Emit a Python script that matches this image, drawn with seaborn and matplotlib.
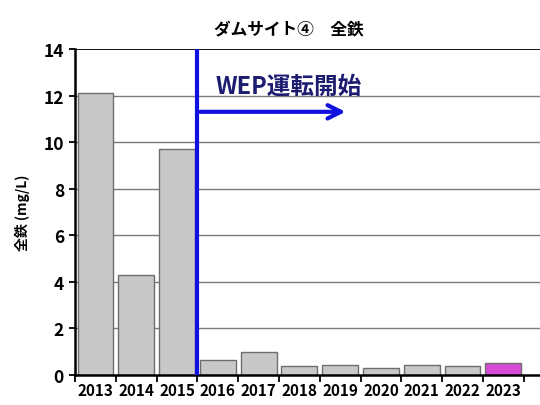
import matplotlib
matplotlib.use("Agg")
import matplotlib.pyplot as plt
import seaborn as sns
import pandas as pd
from matplotlib.ticker import FixedLocator

years = ["2013", "2014", "2015", "2016", "2017", "2018", "2019", "2020", "2021", "2022", "2023"]
values = [12.1, 4.3, 9.7, 0.65, 0.97, 0.39, 0.43, 0.32, 0.43, 0.39, 0.5]
bar_colors = ["#c8c8c8"] * 10 + ["#ee33ee"]
title = "ダムサイト④　全鉄"
ylabel = "全鉄 (mg/L)"
annotation = "WEP運転開始"
yticks = [0, 2, 4, 6, 8, 10, 12, 14]

sns.set_theme(style="white")
plt.rcParams['font.family'] = ['Noto Sans CJK JP', 'DejaVu Sans']
plt.rcParams['text.color'] = 'black'
plt.rcParams['axes.labelcolor'] = 'black'
plt.rcParams['xtick.color'] = 'black'
plt.rcParams['ytick.color'] = 'black'

df = pd.DataFrame({"year": years, "value": values})

fig = plt.figure(figsize=(5.4, 4.06), dpi=100)
ax = fig.add_axes([0.139, 0.074, 0.861, 0.803])

for y in yticks[1:]:
    ax.axhline(y, color="#000000" if y == 14 else "#7a7a7a", lw=1.3 if y == 14 else 1.0, zorder=0)

sns.barplot(data=df, x="year", y="value", hue="year", palette=bar_colors, legend=False,
            width=0.88, edgecolor="#6e6e6e", linewidth=1.0, ax=ax, zorder=2)

ax.set_xlim(-0.5, 10.9)
ax.set_ylim(0, 14)
ax.set_yticks(yticks)
ax.set_yticklabels([str(t) for t in yticks], fontsize=12.5, fontweight="bold")
ax.set_xticks(range(len(years)))
ax.set_xticklabels(years, fontsize=11, fontweight="bold")
ax.xaxis.set_minor_locator(FixedLocator([i - 0.5 for i in range(len(years) + 1)]))
ax.tick_params(axis="x", which="major", length=0, pad=5, labelcolor="black")
ax.tick_params(axis="x", which="minor", length=5, width=1.3, color="black", direction="out", bottom=True)
ax.tick_params(axis="y", which="major", length=4, width=1.3, color="black", direction="out", left=True, pad=4,
               labelcolor="black")

for s in ["left", "bottom"]:
    ax.spines[s].set_color("black")
    ax.spines[s].set_linewidth(1.8)
for s in ["right", "top"]:
    ax.spines[s].set_visible(False)

ax.set_xlabel("")
ax.set_ylabel(ylabel, fontsize=10, fontweight="bold", labelpad=10, color="black")
ax.set_title(title, fontsize=12, fontweight="bold", pad=11, x=0.46, color="black")

# WEP start line and arrow
ax.axvline(2.5, color="#1010e0", lw=3, zorder=4)
ax.annotate("", xy=(6.2, 11.3), xytext=(2.5, 11.3),
            arrowprops=dict(arrowstyle="->", color="#1010e0", lw=3, mutation_scale=24), zorder=4)
ax.text(2.95, 12.4, annotation, color="#1c1c70", fontsize=17, fontweight="bold",
        va="center", ha="left", zorder=5)

fig.savefig("out.png", dpi=100)
